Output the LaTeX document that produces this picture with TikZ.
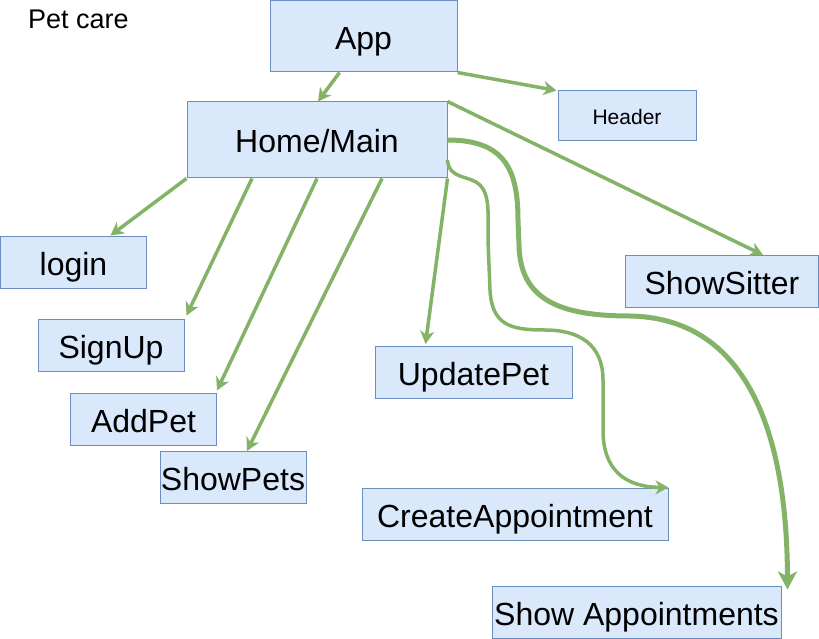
\documentclass[tikz,border=0pt]{standalone}
\usepackage{fontspec}
\setmainfont{Liberation Sans}
\usetikzlibrary{arrows.meta}
\definecolor{boxfill}{HTML}{DAE8FC}
\definecolor{boxline}{HTML}{6C8EBF}
\definecolor{arrgreen}{HTML}{82B366}

\begin{document}
\begin{tikzpicture}[x=1pt,y=-1pt,
	comp/.style={draw=boxline,fill=boxfill,line width=1pt,inner sep=0pt,minimum height=52pt,text height=26pt,text depth=0pt,font=\fontsize{32}{38}\selectfont},
	link/.style={draw=arrgreen,line width=3.5pt,-{Stealth[length=13pt,width=14pt,inset=4pt]}},
	biglink/.style={draw=arrgreen,line width=5pt,-{Stealth[length=18pt,width=19pt,inset=5pt]}}]
		\useasboundingbox (0,0) rectangle (819,639);
		%\node[comp,options] (nodeName) at (x,y) {text};
		\node[font=\fontsize{27}{32}\selectfont,inner sep=0pt,text height=20pt,text depth=0pt] (Title) at (78.5,18.5) {Pet care};
		\node[comp,minimum width=187pt,minimum height=71pt] (App) at (363.5,36.5) {App};
		\node[comp,minimum width=260pt,minimum height=76pt] (Home) at (317,140) {Home/Main};
		\node[comp,minimum width=138pt,minimum height=50pt,text height=18pt,font=\fontsize{21}{25}\selectfont] (Header) at (627,116) {Header};
		\node[comp,minimum width=146pt] (Login) at (73.5,262) {login};
		\node[comp,minimum width=146pt] (SignUp) at (111,345) {SignUp};
		\node[comp,minimum width=146pt] (AddPet) at (143.5,419) {AddPet};
		\node[comp,minimum width=146pt] (ShowPets) at (233,477.5) {ShowPets};
		\node[comp,minimum width=197pt] (UpdatePet) at (473.5,372.5) {UpdatePet};
		\node[comp,minimum width=193pt] (ShowSitter) at (722,281.5) {ShowSitter};
		\node[comp,minimum width=306pt] (CreateAppointment) at (515,514) {CreateAppointment};
		\node[comp,minimum width=289pt] (ShowAppointments) at (636.5,612) {Show Appointments};
		%straight links
		\draw[link] ([xshift=-24pt]App.south) -- ([xshift=1pt]Home.north);
		\draw[link] (App.south east) -- ([xshift=-1pt]Header.north west);
		\draw[link] (Home.south west) -- ([xshift=37pt]Login.north);
		\draw[link] ([xshift=-65pt]Home.south) -- ([xshift=2pt,yshift=3pt]SignUp.north east);
		\draw[link] (Home.south) -- ([yshift=2pt]AddPet.north east);
		\draw[link] ([xshift=65pt]Home.south) -- ([xshift=14pt]ShowPets.north);
		\draw[link] (Home.south east) -- ([xshift=-48pt,yshift=2pt]UpdatePet.north);
		\draw[link] (Home.north east) -- ([xshift=41pt]ShowSitter.north);
		%curved links
		\draw[link] ([yshift=-20pt]Home.east) .. controls (449,180) and (470,175) .. (480,185) .. controls (490,195) and (488,215) .. (488,240) -- (490,290) .. controls (492,325) and (510,330) .. (545,330) .. controls (580,330) and (603,345) .. (603,380) -- (603,430) .. controls (603,470) and (625,487) .. (CreateAppointment.north east);
		\draw[biglink] (Home.east) .. controls (505,140) and (518,170) .. (518,220) -- (519,245) .. controls (520,300) and (560,316) .. (630,316) .. controls (740,318) and (787,420) .. ([xshift=6pt,yshift=-4pt]ShowAppointments.north east);
	\end{tikzpicture}
\end{document}
